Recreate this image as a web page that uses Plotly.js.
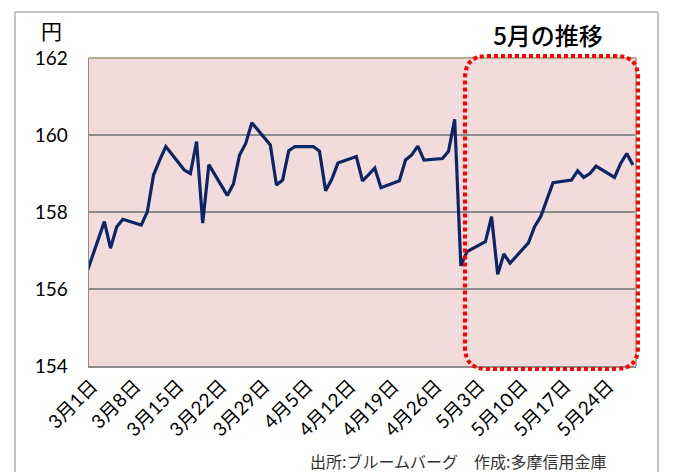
<!DOCTYPE html>
<html>
<head>
<meta charset="utf-8">
<script src="https://cdn.plot.ly/plotly-3.0.1.min.js"></script>
<style>html,body{margin:0;padding:0;background:#fff;}#chart{width:673px;height:472px;}</style>
</head>
<body>
<div id="chart"></div>
<script>
// ---- data ----
const dates = [
  "2026-02-27",
  "2026-03-02","2026-03-03","2026-03-04","2026-03-05","2026-03-06",
  "2026-03-09","2026-03-10","2026-03-11","2026-03-12","2026-03-13",
  "2026-03-16","2026-03-17","2026-03-18","2026-03-19","2026-03-20",
  "2026-03-23","2026-03-24","2026-03-25","2026-03-26","2026-03-27",
  "2026-03-30","2026-03-31","2026-04-01","2026-04-02","2026-04-03",
  "2026-04-06","2026-04-07","2026-04-08","2026-04-09","2026-04-10",
  "2026-04-13","2026-04-14","2026-04-15","2026-04-16","2026-04-17",
  "2026-04-20","2026-04-21","2026-04-22","2026-04-23","2026-04-24",
  "2026-04-27","2026-04-28","2026-04-29","2026-04-30","2026-05-01",
  "2026-05-04","2026-05-05","2026-05-06","2026-05-07","2026-05-08",
  "2026-05-11","2026-05-12","2026-05-13","2026-05-14","2026-05-15",
  "2026-05-18","2026-05-19","2026-05-20","2026-05-21","2026-05-22",
  "2026-05-25","2026-05-26","2026-05-27","2026-05-28"
];
const rates = [
  155.90,
  157.25,157.75,157.06,157.61,157.81,
  157.66,158.01,158.96,159.35,159.70,
  159.09,159.00,159.83,157.71,159.23,
  158.43,158.73,159.48,159.78,160.32,
  159.74,158.70,158.83,159.59,159.70,
  159.70,159.58,158.55,158.85,159.27,
  159.44,158.81,158.97,159.14,158.63,
  158.81,159.35,159.48,159.71,159.35,
  159.39,159.58,160.41,156.60,156.97,
  157.23,157.88,156.38,156.91,156.67,
  157.20,157.62,157.88,158.35,158.76,
  158.83,159.07,158.90,159.00,159.19,
  158.90,159.26,159.52,159.22
];
const tickDates = ["2026-03-01","2026-03-08","2026-03-15","2026-03-22","2026-03-29",
  "2026-04-05","2026-04-12","2026-04-19","2026-04-26","2026-05-03","2026-05-10",
  "2026-05-17","2026-05-24"];
const tickLabels = ["3月1日","3月8日","3月15日","3月22日","3月29日","4月5日","4月12日",
  "4月19日","4月26日","5月3日","5月10日","5月17日","5月24日"];
const yTicks = [154,156,158,160,162];

// ---- layout helpers (pixel -> paper) ----
const W = 673, H = 472;
const M = {l:89, r:37, t:58, b:106};
const PW = W - M.l - M.r, PH = H - M.t - M.b;
const px = x => (x - M.l) / PW;
const py = y => (H - M.b - y) / PH;

function roundRect(x0, y0, x1, y1, r) {
  const P = (x, y) => px(x) + ',' + py(y);
  return 'M' + P(x0 + r, y0) +
    ' L' + P(x1 - r, y0) + ' Q' + P(x1, y0) + ' ' + P(x1, y0 + r) +
    ' L' + P(x1, y1 - r) + ' Q' + P(x1, y1) + ' ' + P(x1 - r, y1) +
    ' L' + P(x0 + r, y1) + ' Q' + P(x0, y1) + ' ' + P(x0, y1 - r) +
    ' L' + P(x0, y0 + r) + ' Q' + P(x0, y0) + ' ' + P(x0 + r, y0) + ' Z';
}

const FONT = "Lato, 'Noto Sans CJK JP', sans-serif";

const trace = {
  x: dates, y: rates, type: 'scatter', mode: 'lines',
  line: {color: '#0B2566', width: 3.2},
  hoverinfo: 'skip'
};

const layout = {
  width: W, height: H,
  margin: M,
  paper_bgcolor: '#ffffff',
  plot_bgcolor: '#F2DCDB',
  showlegend: false,
  font: {family: FONT, color: '#000000', size: 16},
  title: {text: '5月の推移', x: 548 / W, xanchor: 'center', y: 1 - 37 / H, yanchor: 'middle',
          font: {family: "'Noto Sans CJK JP', sans-serif", size: 24, color: '#000', weight: 500}},
  xaxis: {
    type: 'date',
    range: ['2026-02-28 12:00', '2026-05-28 12:00'],
    tickmode: 'array', tickvals: tickDates, ticktext: tickLabels,
    tickangle: -45,
    tickfont: {family: FONT, size: 19, color: '#000'},
    showgrid: false, zeroline: false,
    showline: true, linecolor: '#8c8c8c', linewidth: 1.5,
    ticks: '', fixedrange: true
  },
  yaxis: {
    range: [154, 162],
    tickmode: 'array', tickvals: yTicks, ticktext: yTicks.map(String),
    tickfont: {family: FONT, size: 19, color: '#000'},
    showgrid: true, gridcolor: '#8c8c8c', gridwidth: 1.5,
    zeroline: false,
    showline: true, linecolor: '#8c8c8c', linewidth: 1.5,
    ticks: '', ticklabelstandoff: 16, fixedrange: true
  },
  shapes: [
    // outer chart frame
    {type: 'rect', xref: 'paper', yref: 'paper', x0: px(15), x1: px(658), y0: py(490), y1: py(12),
     line: {color: '#8a8a8a', width: 1}, fillcolor: 'rgba(0,0,0,0)', layer: 'below'},
    // top and right plot border (tan)
    {type: 'line', xref: 'paper', yref: 'paper', x0: 0, x1: 1, y0: 1, y1: 1,
     line: {color: '#b5ad8f', width: 2}},
    {type: 'line', xref: 'paper', yref: 'paper', x0: 1, x1: 1, y0: 0, y1: 1,
     line: {color: '#b5ad8f', width: 2}},
    // red dotted rounded rectangle highlighting May
    {type: 'path', xref: 'paper', yref: 'paper', path: roundRect(465, 56, 638, 369, 22),
     line: {color: '#FF0000', width: 4, dash: '4px,3px'}, fillcolor: 'rgba(0,0,0,0)', layer: 'above'}
  ],
  annotations: [
    {text: '円', xref: 'paper', yref: 'paper', x: px(51), y: py(30), xanchor: 'center', yanchor: 'middle',
     showarrow: false, font: {family: "'Noto Sans CJK JP', sans-serif", size: 21, color: '#000'}},
    {text: '出所:ブルームバーグ　作成:多摩信用金庫', xref: 'paper', yref: 'paper',
     x: px(608), y: py(461), xanchor: 'right', yanchor: 'middle', showarrow: false,
     font: {family: "'Noto Sans CJK JP', sans-serif", size: 16, color: '#333333'}}
  ]
};

Plotly.newPlot('chart', [trace], layout, {displayModeBar: false, staticPlot: true});
</script>
</body>
</html>
